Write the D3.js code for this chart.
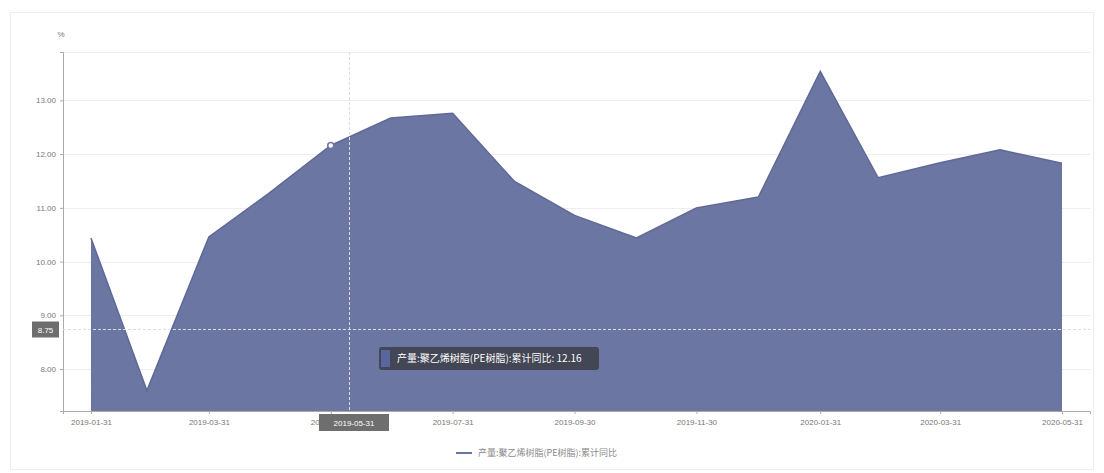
<!DOCTYPE html>
<html><head><meta charset="utf-8">
<script src="https://cdn.jsdelivr.net/npm/d3@7"></script>
<style>body{margin:0;background:#fff;font-family:"Noto Sans CJK SC","Noto Sans",sans-serif}</style>
</head><body><svg id="c" width="1104" height="473"></svg>
<script>
const dates = ["2019-01-31","2019-02-28","2019-03-31","2019-04-30","2019-05-31","2019-06-30","2019-07-31","2019-08-31","2019-09-30","2019-10-31","2019-11-30","2019-12-31","2020-01-31","2020-02-29","2020-03-31","2020-04-30","2020-05-31"];
const values = [10.44,7.6,10.46,11.27,12.16,12.67,12.76,11.49,10.86,10.44,11.0,11.2,13.54,11.56,11.84,12.08,11.83];
const xTickLabels = ["2019-01-31","2019-03-31","2019-05-31","2019-07-31","2019-09-30","2019-11-30","2020-01-31","2020-03-31","2020-05-31"];
const yTicks = [8,9,10,11,12,13];
const seriesName = "产量:聚乙烯树脂(PE树脂):累计同比";
const unit = "%";
const hoverIndex = 4;
const crossValue = 8.75;

const parse = d3.timeParse("%Y-%m-%d");
const svg = d3.select("#c");
const L=63,R=1090,T=52,B=411;
const x = d3.scaleTime().domain([parse("2019-01-17"), parse("2020-06-14")]).range([L,R]);
const y = d3.scaleLinear().domain([7.22,13.9]).range([B,T]);
const color = "#6c76a3";

// outer frame
svg.append("rect").attr("x",10.5).attr("y",12.5).attr("width",1083).attr("height",457).attr("fill","none").attr("stroke","#eeeeee");

// grid
svg.append("g").selectAll("line").data(yTicks).join("line")
  .attr("x1",L).attr("x2",R).attr("y1",d=>Math.round(y(d))+0.5).attr("y2",d=>Math.round(y(d))+0.5)
  .attr("stroke","#eeeeee");
svg.append("line").attr("x1",L).attr("x2",R).attr("y1",T+0.5).attr("y2",T+0.5).attr("stroke","#eeeeee");

// area
const pts = dates.map((d,i)=>({d:parse(d),v:values[i]}));
svg.append("path").datum(pts)
  .attr("d", d3.area().x(p=>x(p.d)).y0(B).y1(p=>y(p.v)))
  .attr("fill",color);
svg.append("path").datum(pts)
  .attr("d", d3.line().x(p=>x(p.d)).y(p=>y(p.v)))
  .attr("fill","none").attr("stroke","#5f6996").attr("stroke-width",1.5);

// axes
const yAxis = svg.append("g").attr("transform",`translate(${L},0)`)
  .call(d3.axisLeft(y).tickValues(yTicks).tickFormat(d3.format(".2f")).tickSize(3).tickPadding(4));
yAxis.select(".domain").attr("stroke","#aaaaaa");
yAxis.selectAll(".tick line").attr("stroke","#aaaaaa");
yAxis.selectAll("text").attr("fill","#777").style("font-size","8px").style("font-family","Liberation Sans, sans-serif");

const xAxis = svg.append("g").attr("transform",`translate(0,${B})`)
  .call(d3.axisBottom(x).tickValues(xTickLabels.map(parse)).tickFormat(d3.timeFormat("%Y-%m-%d")).tickSize(3).tickPadding(5));
xAxis.select(".domain").attr("stroke","#aaaaaa");
xAxis.selectAll(".tick line").attr("stroke","#aaaaaa");
xAxis.selectAll("text").attr("fill","#777").style("font-size","8px").style("font-family","Liberation Sans, sans-serif");

svg.append("text").attr("x",L-2).attr("y",37).attr("text-anchor","middle").attr("fill","#777")
  .style("font-size","8px").style("font-family","Liberation Sans, sans-serif").text(unit);

// cross pointer
const cx = 349.5, cy = Math.round(y(crossValue))+0.5;
svg.append("line").attr("x1",cx).attr("x2",cx).attr("y1",T).attr("y2",B).attr("stroke","#dddddd").attr("stroke-dasharray","3,2");
svg.append("line").attr("x1",L).attr("x2",R).attr("y1",cy).attr("y2",cy).attr("stroke","#dddddd").attr("stroke-dasharray","3,2");

// hovered point
const hp = pts[hoverIndex];
svg.append("circle").attr("cx",x(hp.d)).attr("cy",y(hp.v)).attr("r",3).attr("fill","#fff").attr("stroke",color).attr("stroke-width",1.5);

// y pointer label
svg.append("rect").attr("x",32).attr("y",cy-8).attr("width",27).attr("height",16).attr("fill","#6e6e6e");
svg.append("text").attr("x",45.5).attr("y",cy+3).attr("text-anchor","middle").attr("fill","#fff")
  .style("font-size","8px").style("font-family","Liberation Sans, sans-serif").text(d3.format(".2f")(crossValue));
// x pointer label
svg.append("rect").attr("x",319).attr("y",414).attr("width",70).attr("height",17).attr("fill","#6e6e6e");
svg.append("text").attr("x",354).attr("y",426).attr("text-anchor","middle").attr("fill","#fff")
  .style("font-size","8px").style("font-family","Liberation Sans, sans-serif").text(dates[hoverIndex]);

// tooltip
svg.append("rect").attr("x",379).attr("y",347).attr("width",220).attr("height",23).attr("rx",3)
  .attr("fill","rgba(50,50,50,0.7)");
svg.append("rect").attr("x",381).attr("y",350).attr("width",9).attr("height",17).attr("fill","#5a66a0");
svg.append("text").attr("x",397).attr("y",362).attr("fill","#fff").style("font-size","10px")
  .text(`${seriesName}: ${values[hoverIndex]}`);

// legend
svg.append("line").attr("x1",456).attr("x2",472).attr("y1",453).attr("y2",453).attr("stroke",color).attr("stroke-width",2);
svg.append("text").attr("x",478).attr("y",456).attr("fill","#888").style("font-size","9px").text(seriesName);
</script></body></html>
